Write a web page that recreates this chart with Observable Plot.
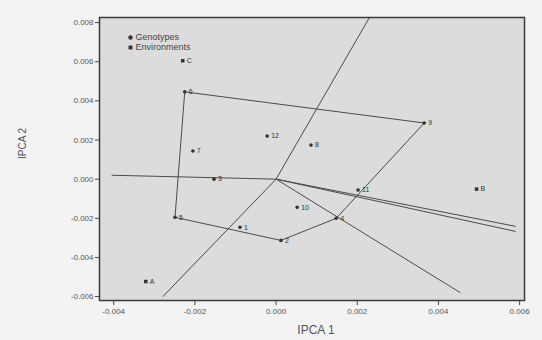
<!DOCTYPE html>
<html>
<head>
<meta charset="utf-8">
<script src="https://cdn.jsdelivr.net/npm/d3@7"></script>
<script src="https://cdn.jsdelivr.net/npm/@observablehq/plot@0.6"></script>
<style>
  html, body { margin: 0; padding: 0; background: #f3f3f3; }
  #chart { width: 542px; height: 340px; }
</style>
</head>
<body>
<div id="chart"></div>
<script>
// Genotypes (IPCA1, IPCA2)
const genoLabels = ["1","2","3","4","5","6","7","8","9","10","11","12"];
const genoX = [-0.00089, 0.00012, -0.00153, 0.00148, -0.00249, -0.00225, -0.00205, 0.00086, 0.00365, 0.00052, 0.00202, -0.00022];
const genoY = [-0.00246, -0.00313, 0.00000, -0.00200, -0.00195, 0.00446, 0.00144, 0.00174, 0.00287, -0.00144, -0.00056, 0.00220];

// Environments
const envLabels = ["A","B","C"];
const envX = [-0.00321, 0.00494, -0.00230];
const envY = [-0.00523, -0.00051, 0.00605];

// Polygon vertices (genotype labels, in drawing order)
const hullOrder = ["6","9","4","2","5","6"];

// Rays from origin (end points)
const rayX = [0.00230, -0.00279, -0.00405, 0.00590, 0.00590, 0.00454];
const rayY = [0.00826, -0.00600, 0.00020, -0.00241, -0.00267, -0.00580];

const xTicks = [-0.004, -0.002, 0.000, 0.002, 0.004, 0.006];
const yTicks = [-0.006, -0.004, -0.002, 0.000, 0.002, 0.004, 0.006, 0.008];
const legendItems = ["Genotypes", "Environments"];
const legendSymbols = ["circle", "square"];

const geno = genoLabels.map((l, i) => ({label: l, x: genoX[i], y: genoY[i]}));
const env = envLabels.map((l, i) => ({label: l, x: envX[i], y: envY[i]}));
const hull = hullOrder.map(l => geno.find(g => g.label === l));
const rays = rayX.map((x, i) => ({x1: 0, y1: 0, x2: x, y2: rayY[i]}));
const fmt = d => d3.format(".3f")(d).replace("−", "-");

const ink = "#4a4a4a";

const legendMarks = legendItems.flatMap((name, i) => [
  Plot.dot([name], {frameAnchor: "top-left", dx: 31, dy: 20 + i * 10, symbol: legendSymbols[i], r: 2.2, fill: "#333"}),
  Plot.text([name], {frameAnchor: "top-left", dx: 36, dy: 20 + i * 10, text: d => d, textAnchor: "start", lineAnchor: "middle", fontSize: 9, fill: "#444"})
]);

const chart = Plot.plot({
  width: 542,
  height: 340,
  marginLeft: 99,
  marginTop: 17,
  marginRight: 18,
  marginBottom: 40,
  style: {background: "#f3f3f3", fontFamily: "Liberation Sans, Arial, sans-serif", color: "#555"},
  x: {domain: [-0.00435, 0.00612]},
  y: {domain: [-0.0062, 0.00826]},
  marks: [
    Plot.frame({fill: "#dcdcdc"}),
    Plot.line(hull, {x: "x", y: "y", stroke: ink, strokeWidth: 1, clip: true}),
    Plot.link(rays, {x1: "x1", y1: "y1", x2: "x2", y2: "y2", stroke: ink, strokeWidth: 1, clip: true}),
    Plot.dot(geno, {x: "x", y: "y", r: 1.8, fill: "#333", stroke: "none"}),
    Plot.text(geno, {x: "x", y: "y", text: "label", dx: 4, textAnchor: "start", fontSize: 7, fill: "#333"}),
    Plot.dot(env, {x: "x", y: "y", symbol: "square", r: 2, fill: "#333", stroke: "none"}),
    Plot.text(env, {x: "x", y: "y", text: "label", dx: 4, textAnchor: "start", fontSize: 7, fill: "#333"}),
    ...legendMarks,
    Plot.frame({stroke: "#3a3a3a", strokeWidth: 1.5}),
    Plot.axisX({ticks: xTicks, tickFormat: fmt, tickSize: 5, tickPadding: 3, fontSize: 8, label: null, stroke: "#444"}),
    Plot.axisY({ticks: yTicks, tickFormat: fmt, tickSize: 4, tickPadding: 2, fontSize: 8, label: null, stroke: "#444"}),
    Plot.text(["IPCA 1"], {frameAnchor: "bottom", dx: 4, dy: 33, fontSize: 12, fill: "#555"}),
    Plot.text(["IPCA 2"], {frameAnchor: "left", dx: -77, rotate: -90, fontSize: 10, fill: "#555"})
  ]
});

document.getElementById("chart").append(chart);
</script>
</body>
</html>
